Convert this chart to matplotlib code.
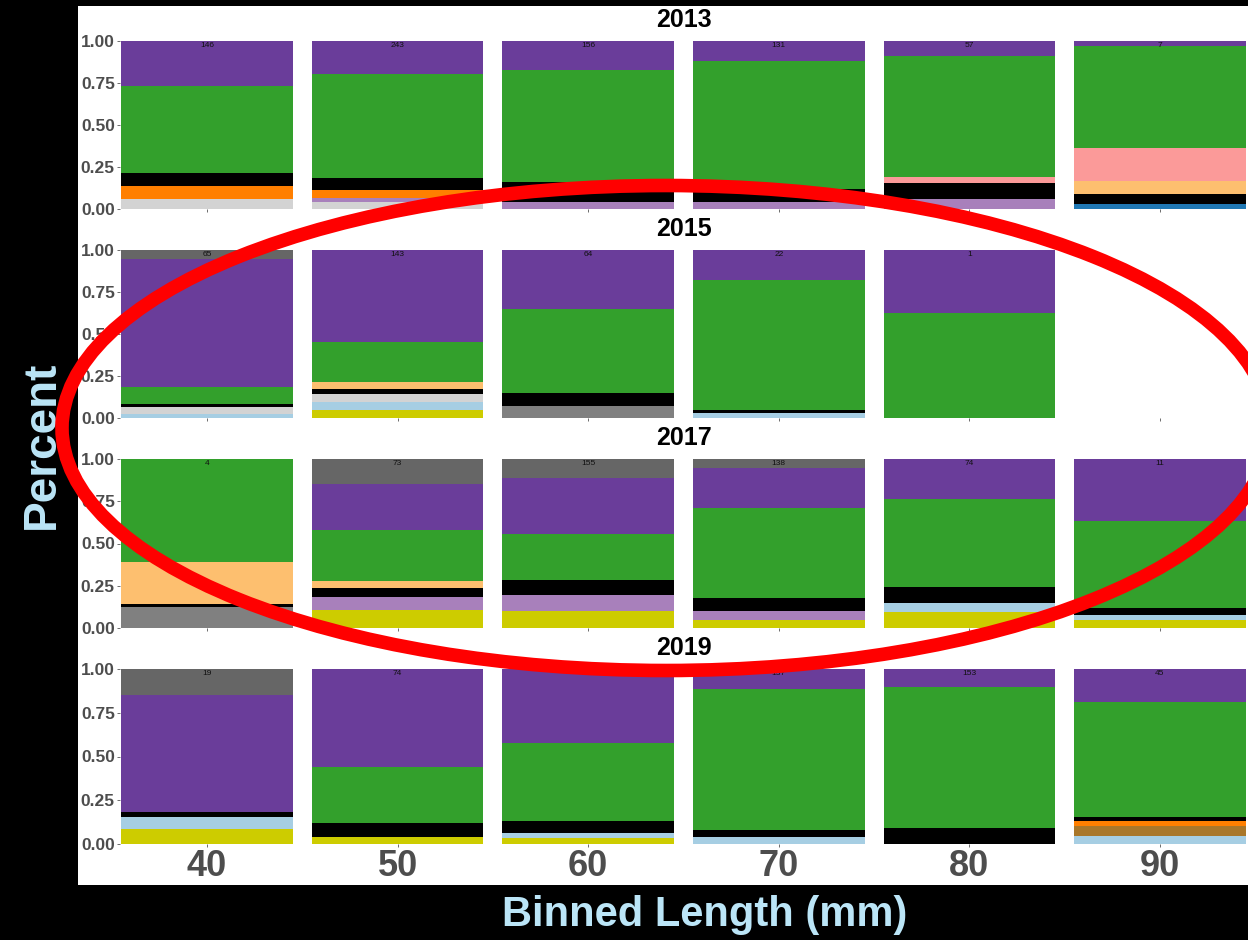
import matplotlib
matplotlib.use("Agg")
import matplotlib.pyplot as plt
from matplotlib.patches import Rectangle, Ellipse

plt.rcParams['font.family'] = ['Liberation Sans', 'DejaVu Sans']

# binned lengths (mm) shared by every year
bins = [40, 50, 60, 70, 80, 90]
years = ["2013", "2015", "2017", "2019"]

# stacking order, bottom -> top
categories = ["yellow", "light_blue", "blue", "light_gray", "light_purple", "gray",
              "brown", "orange", "black", "light_orange", "pink", "green",
              "purple", "dark_gray"]
cat_colors = {
    "yellow": "#cdcc00", "light_blue": "#a6cee3", "blue": "#1f78b4",
    "light_gray": "#d3d3d3", "light_purple": "#a880bb", "gray": "#808080",
    "brown": "#a9772a", "orange": "#ff7f00", "black": "#000000",
    "light_orange": "#fdbf6f", "pink": "#fb9a99", "green": "#33a02c",
    "purple": "#6a3d9a", "dark_gray": "#666666",
}

# proportions per bin (40..90)
p2013 = {
    "blue":         [0, 0, 0, 0, 0, .028],
    "light_gray":   [.058, .040, 0, 0, 0, 0],
    "light_purple": [0, .027, .044, .040, .058, 0],
    "orange":       [.079, .048, 0, 0, 0, 0],
    "black":        [.077, .070, .115, .079, .095, .061],
    "light_orange": [0, 0, 0, 0, 0, .076],
    "pink":         [0, 0, 0, 0, .035, .196],
    "green":        [.516, .621, .666, .760, .723, .607],
    "purple":       [.270, .194, .175, .121, .089, .032],
}
p2015 = {
    "yellow":       [0, .048, 0, 0, 0, 0],
    "light_blue":   [.024, .047, 0, .030, 0, 0],
    "light_gray":   [.043, .050, 0, 0, 0, 0],
    "gray":         [0, 0, .073, 0, 0, 0],
    "black":        [.015, .025, .074, .018, 0, 0],
    "light_orange": [0, .042, 0, 0, 0, 0],
    "green":        [.100, .238, .501, .772, .624, 0],
    "purple":       [.763, .550, .352, .180, .376, 0],
    "dark_gray":    [.055, 0, 0, 0, 0, 0],
}
p2017 = {
    "yellow":       [0, .107, .100, .047, .093, .045],
    "light_blue":   [0, 0, 0, 0, .055, .030],
    "light_purple": [0, .078, .097, .056, 0, 0],
    "gray":         [.124, 0, 0, 0, 0, 0],
    "black":        [.016, .054, .085, .075, .095, .041],
    "light_orange": [.249, .039, 0, 0, 0, 0],
    "green":        [.611, .304, .272, .532, .520, .519],
    "purple":       [0, .268, .334, .237, .237, .365],
    "dark_gray":    [0, .150, .112, .053, 0, 0],
}
p2019 = {
    "yellow":       [.087, .038, .032, 0, 0, 0],
    "light_blue":   [.069, 0, .031, .038, 0, .048],
    "brown":        [0, 0, 0, 0, 0, .053],
    "orange":       [0, 0, 0, 0, 0, .030],
    "black":        [.028, .084, .066, .042, .091, .021],
    "green":        [0, .319, .447, .806, .804, .658],
    "purple":       [.666, .559, .424, .114, .105, .190],
    "dark_gray":    [.150, 0, 0, 0, 0, 0],
}
props = [p2013, p2015, p2017, p2019]

# sample sizes printed on top of each bar (None = no bar)
n2013 = [146, 243, 156, 131, 57, 7]
n2015 = [65, 143, 64, 22, 1, None]
n2017 = [4, 73, 155, 138, 74, 11]
n2019 = [19, 74, 117, 137, 153, 45]
counts = [n2013, n2015, n2017, n2019]

W, H = 1248, 940
fig = plt.figure(figsize=(W / 100, H / 100), dpi=100, facecolor="black")

# white plotting area on the black background
fig.add_artist(Rectangle((78 / W, 1 - 885 / H), (W - 78) / W, (885 - 6) / H,
                         transform=fig.transFigure, facecolor="white",
                         edgecolor="none", zorder=-10))

# panel extents in pixels (top of 1.00, bottom of 0.00)
rows_px = [(41, 209), (250, 418), (459, 628), (669, 844)]
left_px, right_px = 120, 1248
tick_col = "#4d4d4d"

for i, (yr, p, n) in enumerate(zip(years, props, counts)):
    top, bot = rows_px[i]
    ax = fig.add_axes([left_px / W, 1 - bot / H, (right_px - left_px) / W, (bot - top) / H])
    ax.set_facecolor("none")
    bottoms = [0.0] * len(bins)
    for c in categories:
        vals = p.get(c)
        if vals is None:
            continue
        ax.bar(bins, vals, width=9, bottom=bottoms, color=cat_colors[c],
               edgecolor="none", linewidth=0)
        bottoms = [b + v for b, v in zip(bottoms, vals)]
    for x, cnt in zip(bins, n):
        if cnt is not None:
            ax.text(x, 0.995, str(cnt), ha="center", va="top", fontsize=6,
                    color="#111111")
    ax.set_xlim(35.44, 94.62)
    ax.set_ylim(0, 1)
    ax.set_yticks([0, 0.25, 0.5, 0.75, 1.0])
    ax.set_yticklabels(["0.00", "0.25", "0.50", "0.75", "1.00"], fontsize=12.5,
                       fontweight="bold", color=tick_col)
    ax.set_xticks(bins)
    if i == len(years) - 1:
        ax.set_xticklabels([str(b) for b in bins], fontsize=26, fontweight="bold",
                           color=tick_col)
    else:
        ax.set_xticklabels([])
    ax.tick_params(axis="both", length=2.2, width=0.6, color="#555555", pad=1.5)
    ax.tick_params(axis="x", pad=1.5)
    for s in ax.spines.values():
        s.set_visible(False)
    ax.text(0.5, 1 + 21 / (bot - top), yr, transform=ax.transAxes, ha="center",
            va="center", fontsize=18, fontweight="bold", color="black")

fig.text(42 / W, 1 - 445 / H, "Percent", rotation=90, ha="center", va="center",
         fontsize=33, fontweight="bold", color="#bbe5f7")
fig.text(705 / W, 1 - 915 / H, "Binned Length (mm)", ha="center", va="center",
         fontsize=30, fontweight="bold", color="#bbe5f7")

# red hand-drawn style ellipse overlay
fig.add_artist(Ellipse((666 / W, 1 - 428 / H), 1208 / W, 485 / H,
                       transform=fig.transFigure, fill=False, edgecolor="#ff0000",
                       linewidth=9.8, zorder=20))

fig.savefig("out.png", dpi=100, facecolor="black")
